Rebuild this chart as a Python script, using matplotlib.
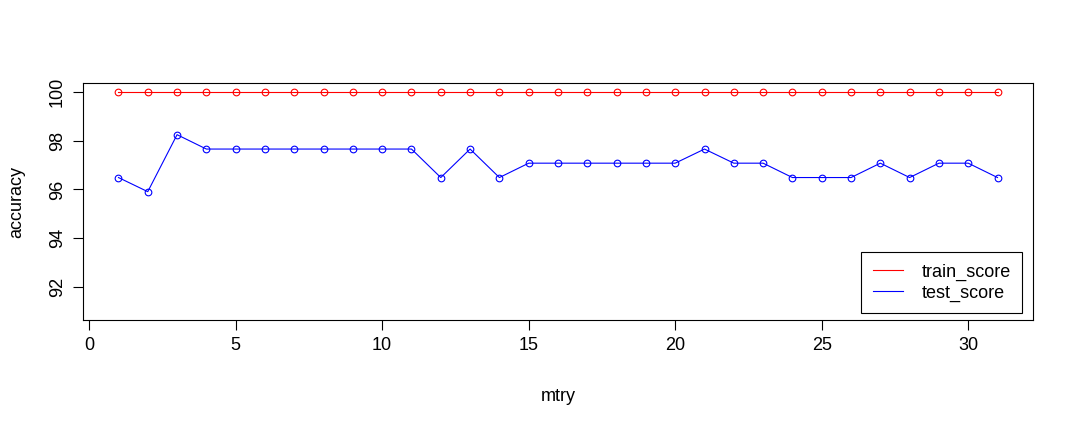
import matplotlib
matplotlib.use('Agg')
import matplotlib.pyplot as plt

plt.rcParams['font.family'] = ['Liberation Sans', 'DejaVu Sans']

# valores
mtry = list(range(1, 32))
train_score = [100.0] * 31
test_score = [96.49, 95.91, 98.25, 97.66, 97.66, 97.66, 97.66, 97.66, 97.66, 97.66,
              97.66, 96.49, 97.66, 96.49, 97.08, 97.08, 97.08, 97.08, 97.08, 97.08,
              97.66, 97.08, 97.08, 96.49, 96.49, 96.49, 97.08, 96.49, 97.08, 97.08,
              96.49]
x_ticks = [0, 5, 10, 15, 20, 25, 30]
y_ticks = [92, 94, 96, 98, 100]

W, H = 1075, 425
fig = plt.figure(figsize=(W / 100, H / 100), dpi=100)
# area do grafico em pixels (estilo R)
esq, dir_, topo, base = 83.3, 1032.7, 83.3, 320.0
ax = fig.add_axes([esq / W, 1 - base / H, (dir_ - esq) / W, (base - topo) / H])

ax.plot(mtry, train_score, color='#FF0000', lw=0.8, marker='o', ms=4.8,
        mfc='none', mew=0.8, label='train_score')
ax.plot(mtry, test_score, color='#0000FF', lw=0.8, marker='o', ms=4.8,
        mfc='none', mew=0.8, label='test_score')

ax.set_xlim(-0.2, 32.2)
ax.set_ylim(90.64, 100.36)
ax.set_xticks(x_ticks)
ax.set_yticks(y_ticks)
ax.set_yticklabels([str(v) for v in y_ticks], rotation=90, va='center')
ax.tick_params(direction='out', length=7.5, width=0.8, labelsize=13, pad=5, color='black')
for s in ax.spines.values():
    s.set_linewidth(0.8)
    s.set_color('black')

ax.set_xlabel('mtry', fontsize=13, labelpad=24)
ax.set_ylabel('accuracy', fontsize=13, labelpad=17)

leg = ax.legend(loc='lower right', bbox_to_anchor=(0.989, 0.028), borderaxespad=0,
                fontsize=13, fancybox=False, edgecolor='black', framealpha=1,
                handlelength=1.7, handletextpad=1.0, borderpad=0.65,
                labelspacing=0.2)
leg.get_frame().set_linewidth(0.8)
for h in leg.legend_handles:
    h.set_marker('')

fig.savefig('out.png', dpi=100)
